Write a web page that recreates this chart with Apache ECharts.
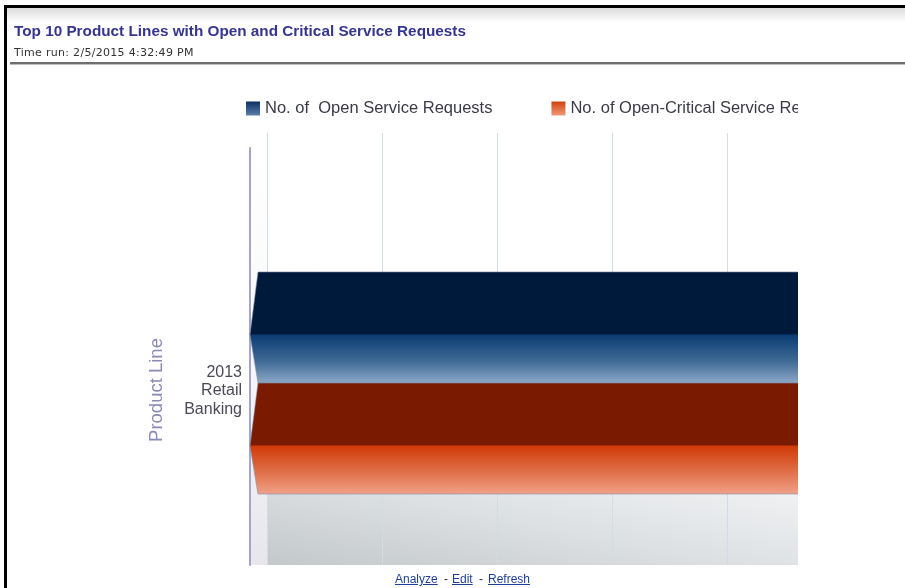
<!DOCTYPE html>
<html>
<head>
<meta charset="utf-8">
<script src="https://cdn.jsdelivr.net/npm/echarts@6/dist/echarts.min.js"></script>
<style>
  html, body { margin: 0; padding: 0; background: #fff; }
  #page { position: relative; width: 905px; height: 588px; overflow: hidden; background: #fff; }
  #clip { position: absolute; left: 0; top: 0; width: 798px; height: 588px; overflow: hidden; }
  #chart { position: absolute; left: 0; top: 0; width: 905px; height: 588px; }
  #frameTop { position: absolute; left: 4px; top: 5px; width: 901px; height: 3px; background: #000; z-index: 5; }
  #frameLeft { position: absolute; left: 4px; top: 5px; width: 3px; height: 583px; background: #000; z-index: 5; }
  #headBand { position: absolute; left: 7px; top: 8px; width: 898px; height: 14px; background: linear-gradient(#dcdcdc, #ffffff); z-index: 2; }
  #title { position: absolute; left: 14px; top: 22px; font: bold 15.3px "Liberation Sans", Arial, sans-serif; color: #363690; z-index: 3; white-space: nowrap; }
  #timerun { position: absolute; left: 14px; top: 46px; font: 11px "DejaVu Sans", Verdana, sans-serif; letter-spacing: 0.3px; color: #333; z-index: 3; white-space: nowrap; }
  #sep1 { position: absolute; left: 10px; top: 62px; width: 895px; height: 2px; background: #6e6e6e; z-index: 3; }
  #sep2 { position: absolute; left: 10px; top: 64px; width: 895px; height: 1px; background: #bdbdbd; z-index: 3; }
  .lk { position: absolute; top: 572px; font: 12px "Liberation Sans", Arial, sans-serif; color: #333; z-index: 3; white-space: nowrap; }
  .lk a { color: #1f3f9a; text-decoration: underline; }
</style>
</head>
<body>
<div id="page">
  <div id="clip"><div id="chart"></div></div>
  <div id="headBand"></div>
  <div id="frameTop"></div>
  <div id="frameLeft"></div>
  <div id="title">Top 10 Product Lines with Open and Critical Service Requests</div>
  <div id="timerun">Time run: 2/5/2015 4:32:49 PM</div>
  <div id="sep1"></div>
  <div id="sep2"></div>
  <span class="lk" style="left:395px"><a href="#">Analyze</a></span>
  <span class="lk" style="left:444px">-</span>
  <span class="lk" style="left:452px"><a href="#">Edit</a></span>
  <span class="lk" style="left:479px">-</span>
  <span class="lk" style="left:488px"><a href="#">Refresh</a></span>
</div>
<script>
// ---- data ----
const categories = ['2013 Retail Banking'];
const seriesNames = ['No. of  Open Service Requests', 'No. of Open-Critical Service Requests'];
const openRequests = [5];
const criticalRequests = [5];
const axisMax = 5;
const axisInterval = 1;

// ---- styles ----
function vgrad(stops) {
  return { type: 'linear', x: 0, y: 0, x2: 0, y2: 1, colorStops: stops.map(s => ({ offset: s[0], color: s[1] })) };
}
const openFill = vgrad([[0, '#001a3c'], [0.56, '#001a3c'], [0.565, '#0a3b72'], [0.8, '#3f6a95'], [1, '#8ea9c8']]);
const critFill = vgrad([[0, '#7a1a00'], [0.56, '#7a1a00'], [0.565, '#d03a06'], [0.8, '#e0704a'], [1, '#f0a28a']]);
const openIcon = vgrad([[0, '#0a3060'], [1, '#5a80aa']]);
const critIcon = vgrad([[0, '#d0400c'], [1, '#f09a78']]);

function makeRender(pos, fill) {
  return function (params, api) {
    const cat = api.value(1);
    const val = api.value(0);
    const start = api.coord([0, cat]);
    const end = api.coord([val, cat]);
    const band = api.size([0, 1])[1];
    const h = band * 0.305;
    const top = pos === 'top' ? start[1] - h : start[1];
    const bottom = top + h;
    const depth = 17, face = 9;
    const tipY = top + h * 0.565;
    return {
      type: 'polygon',
      shape: { points: [[start[0] - face, top], [end[0], top], [end[0], bottom], [start[0] - face, bottom], [start[0] - depth, tipY]] },
      style: { fill: fill, stroke: 'rgba(130,140,165,0.6)', lineWidth: 1 }
    };
  };
}

const chart = echarts.init(document.getElementById('chart'), null, { renderer: 'canvas' });
chart.setOption({
  animation: false,
  backgroundColor: 'transparent',
  textStyle: { fontFamily: '"Liberation Sans", Arial, sans-serif' },
  legend: {
    left: 241, top: 95,
    itemWidth: 14, itemHeight: 14, itemGap: 59,
    icon: 'rect',
    textStyle: { color: '#3a3a48', fontSize: 16.5 },
    data: [
      { name: seriesNames[0], itemStyle: { color: openIcon } },
      { name: seriesNames[1], itemStyle: { color: critIcon } }
    ]
  },
  grid: [
    { left: 250, right: 63, top: 148, bottom: 23, show: true, borderWidth: 0,
      backgroundColor: vgrad([[0, '#ffffff'], [0.4, '#fafafc'], [1, '#e6e6ec']]) },
    { left: 267, right: 63, top: 133, bottom: 23, show: true, borderWidth: 0,
      backgroundColor: { type: 'linear', x: 0, y: 1, x2: 0.104, y2: 0.306,
        colorStops: [{ offset: 0, color: '#c3c8cb' }, { offset: 0.3, color: '#dde0e3' }, { offset: 0.7, color: '#f8f9fa' }, { offset: 1, color: '#ffffff' }] } },
    { left: 267, right: 63, top: 201, bottom: 23 }
  ],
  xAxis: [
    { gridIndex: 0, type: 'value', min: 0, max: axisMax, show: false },
    { gridIndex: 1, type: 'value', min: 0, max: axisMax, interval: axisInterval,
      axisLine: { show: false }, axisTick: { show: false }, axisLabel: { show: false },
      splitLine: { show: true, lineStyle: { color: '#d4dbe8', width: 1 } } },
    { gridIndex: 2, type: 'value', min: 0, max: axisMax, show: false }
  ],
  yAxis: [
    { gridIndex: 0, type: 'category', data: categories,
      axisLine: { show: true, lineStyle: { color: '#a4a4cc', width: 2 } },
      axisTick: { show: false }, axisLabel: { show: false }, splitLine: { show: false } },
    { gridIndex: 1, type: 'category', data: categories, show: false },
    { gridIndex: 2, type: 'category', data: categories, offset: 17,
      axisLine: { show: false }, axisTick: { show: false },
      axisLabel: { margin: 8, color: '#4a4a58', fontSize: 16, lineHeight: 18.5, align: 'right',
        formatter: v => '{s|}\n' + v.split(' ').join('\n'),
        rich: { s: { lineHeight: 16, fontSize: 4 } } },
      name: 'Product Line', nameLocation: 'middle', nameGap: 84, nameRotate: 90,
      nameTextStyle: { color: '#8a8ab6', fontSize: 18.5, padding: [0, 14, 0, 0] } }
  ],
  series: [
    { name: seriesNames[0], type: 'custom', xAxisIndex: 2, yAxisIndex: 2, clip: false,
      itemStyle: { color: openIcon },
      encode: { x: 0, y: 1 },
      data: openRequests.map((v, i) => [v, i]),
      renderItem: makeRender('top', openFill) },
    { name: seriesNames[1], type: 'custom', xAxisIndex: 2, yAxisIndex: 2, clip: false,
      itemStyle: { color: critIcon },
      encode: { x: 0, y: 1 },
      data: criticalRequests.map((v, i) => [v, i]),
      renderItem: makeRender('bottom', critFill) }
  ]
});
</script>
</body>
</html>
